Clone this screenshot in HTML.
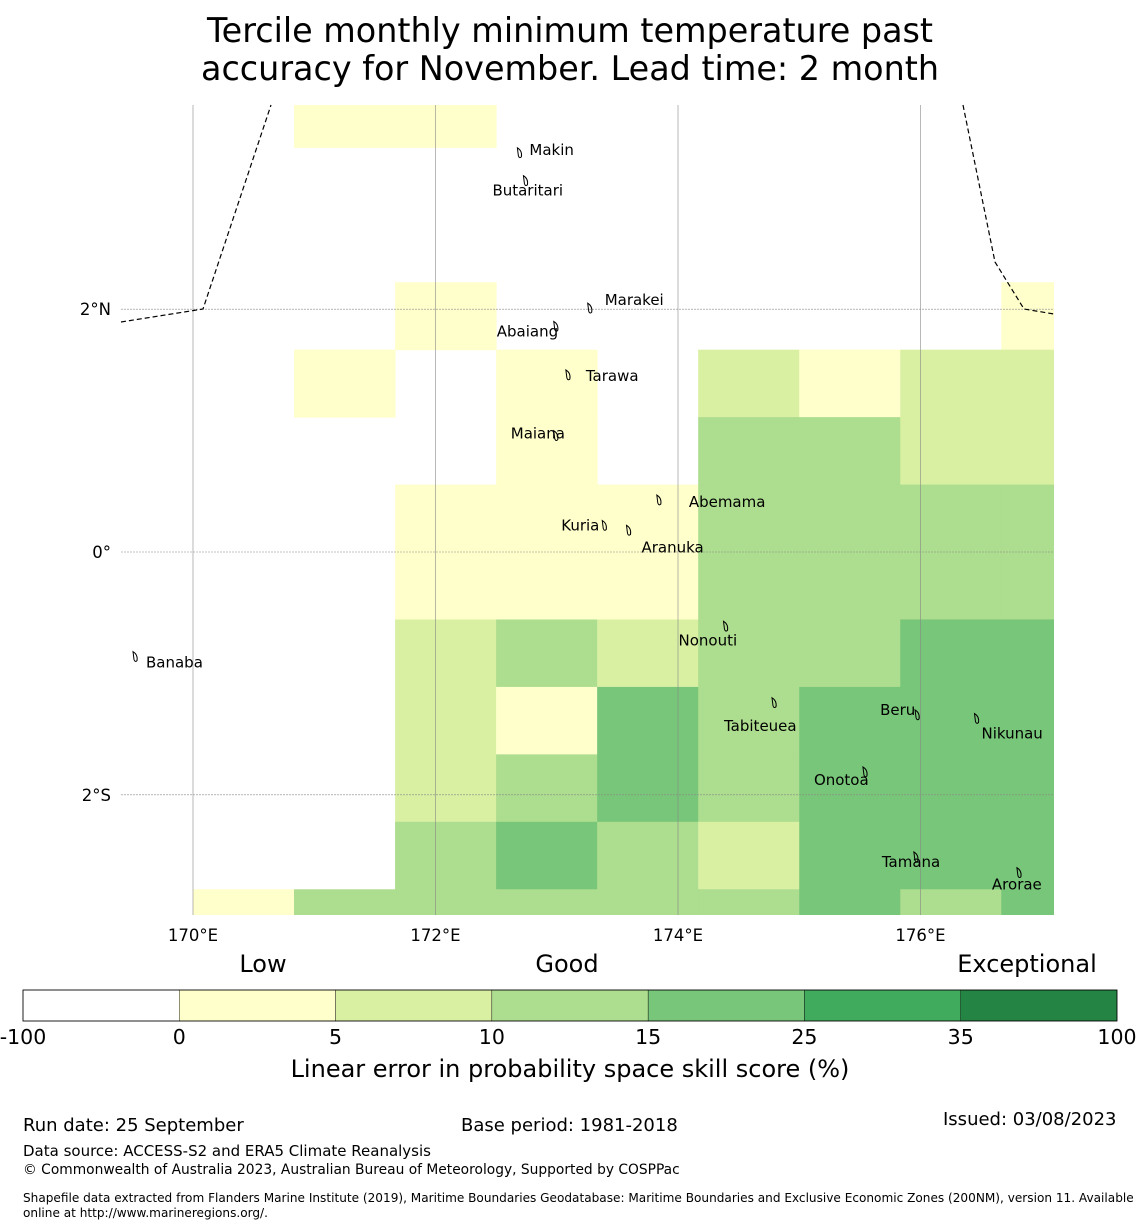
<!DOCTYPE html>
<html><head><meta charset="utf-8">
<style>
body{margin:0;background:#fff;font-family:"Liberation Sans","DejaVu Sans",sans-serif;}
#wrap{position:relative;width:1140px;height:1230px;overflow:hidden;}
.t{position:absolute;white-space:nowrap;color:#000;}
</style></head>
<body>
<div id="wrap">
<div class="t" style="left:0;width:1140px;top:12px;text-align:center;font-size:33.4px;line-height:38px;font-family:'DejaVu Sans',sans-serif;">Tercile monthly minimum temperature past<br>accuracy for November. Lead time: 2 month</div>
<svg id="map" width="1140" height="1230" style="position:absolute;left:0;top:0" font-family="DejaVu Sans, sans-serif"></svg>
<div class="t" style="left:23px;top:1115px;font-size:18px;font-family:'DejaVu Sans',sans-serif;">Run date: 25 September</div>
<div class="t" style="left:461px;top:1115px;font-size:18px;font-family:'DejaVu Sans',sans-serif;">Base period: 1981-2018</div>
<div class="t" style="left:943px;top:1109px;font-size:18px;font-family:'DejaVu Sans',sans-serif;">Issued: 03/08/2023</div>
<div class="t" style="left:23px;top:1142px;font-size:15px;font-family:'DejaVu Sans',sans-serif;">Data source: ACCESS-S2 and ERA5 Climate Reanalysis</div>
<div class="t" style="left:23px;top:1162px;font-size:13.8px;font-family:'DejaVu Sans',sans-serif;">© Commonwealth of Australia 2023, Australian Bureau of Meteorology, Supported by COSPPac</div>
<div class="t" style="left:23px;top:1191px;font-size:12.1px;line-height:15px;font-family:'DejaVu Sans',sans-serif;">Shapefile data extracted from Flanders Marine Institute (2019), Maritime Boundaries Geodatabase: Maritime Boundaries and Exclusive Economic Zones (200NM), version 11. Available<br>online at http://www.marineregions.org/.</div>
</div>
<script>
// grid data: skill score (%) per cell; rows from north to south, columns from 170E eastward; null = no data
const cellLonStart = 170.0;
const cellLonStep = 0.8333;
const cellLatTop = 3.889;
const cellLatStep = 0.5556;
const row0 = [null, 3, 3, null, null, null, null, null, null];
const row1 = [null, null, null, null, null, null, null, null, null];
const row2 = [null, null, null, null, null, null, null, null, null];
const row3 = [null, null, 3, null, null, null, null, null, 3];
const row4 = [null, 3, null, 3, null, 7, 3, 7, 7];
const row5 = [null, null, null, 3, null, 12, 12, 7, 7];
const row6 = [null, null, 3, 3, 3, 12, 12, 12, 12];
const row7 = [null, null, 3, 3, 3, 12, 12, 12, 12];
const row8 = [null, null, 7, 12, 7, 12, 12, 20, 20];
const row9 = [null, null, 7, 3, 20, 12, 20, 20, 20];
const row10 = [null, null, 7, 12, 20, 12, 20, 20, 20];
const row11 = [null, null, 12, 20, 12, 7, 20, 20, 20];
const row12 = [3, 12, 12, 12, 12, 12, 20, 12, 20];
const rows = [row0,row1,row2,row3,row4,row5,row6,row7,row8,row9,row10,row11,row12];
const lonTicks = [170, 172, 174, 176];
const lonTickLabels = ["170°E", "172°E", "174°E", "176°E"];
const latTicks = [2, 0, -2];
const latTickLabels = ["2°N", "0°", "2°S"];
const cbBounds = [-100, 0, 5, 10, 15, 25, 35, 100];
const cbColors = ["#ffffff", "#ffffcc", "#d9f0a3", "#addd8e", "#78c679", "#41ab5d", "#238443"];
const islandNames = ["Makin","Butaritari","Marakei","Abaiang","Tarawa","Maiana","Abemama","Kuria","Aranuka","Banaba","Nonouti","Tabiteuea","Beru","Nikunau","Onotoa","Tamana","Arorae"];
const islandLon = [172.7,172.75,173.28,173.0,173.1,173.0,173.85,173.4,173.6,169.53,174.4,174.8,175.98,176.47,175.55,175.97,176.82];
const islandLat = [3.28,3.05,2.0,1.85,1.45,0.95,0.42,0.21,0.17,-0.87,-0.62,-1.25,-1.35,-1.38,-1.82,-2.52,-2.65];
const labelDx = [9,-34,14,-60,17,-46,29,-44,12,10,-48,-51,-38,4,-52,-35,-28];
const labelDy = [1,14,-4,9,5,2,6,4,21,10,18,27,-1,19,12,9,16];

const svg = document.getElementById('map');
const NS = 'http://www.w3.org/2000/svg';
const X0=121, X1=1054, Y0=105, Y1=915;
function xs(lon){return 193+(lon-170)*121.25;}
function ys(lat){return 552-lat*121.4;}
function colorFor(v){for(let i=0;i<cbColors.length;i++){if(v<cbBounds[i+1])return cbColors[i];}return cbColors[cbColors.length-1];}
function mk(tag,attrs){const e=document.createElementNS(NS,tag);for(const k in attrs)e.setAttribute(k,attrs[k]);svg.appendChild(e);return e;}

const defs=mk('defs',{});
const cp=document.createElementNS(NS,'clipPath');cp.setAttribute('id','clip');defs.appendChild(cp);
const cr=document.createElementNS(NS,'rect');cr.setAttribute('x',X0);cr.setAttribute('y',Y0);cr.setAttribute('width',X1-X0);cr.setAttribute('height',Y1-Y0);cp.appendChild(cr);
const g=mk('g',{'clip-path':'url(#clip)'});


rows.forEach((row,r)=>{row.forEach((v,c)=>{
  if(v===null)return;
  const lon0=cellLonStart+c*cellLonStep, lat0=cellLatTop-r*cellLatStep;
  const x=xs(lon0), y=ys(lat0), w=xs(lon0+cellLonStep)-x, h=ys(lat0-cellLatStep)-y;
  const e=document.createElementNS(NS,'rect');
  e.setAttribute('x',x);e.setAttribute('y',y);e.setAttribute('width',w+0.5);e.setAttribute('height',h+0.5);e.setAttribute('fill',colorFor(v));
  
  
  g.appendChild(e);
});});
lonTicks.forEach((lon,i)=>{
  const l=mk('line',{x1:xs(lon),x2:xs(lon),y1:Y0,y2:Y1,stroke:'#888','stroke-width':0.6});
  
  
  const t=mk('text',{x:xs(lon),y:941,'text-anchor':'middle','font-size':16.5});
  t.textContent=lonTickLabels[i];
  
  
});
latTicks.forEach((lat,i)=>{
  const l=mk('line',{x1:X0,x2:X1,y1:ys(lat),y2:ys(lat),stroke:'#888','stroke-width':0.6,'stroke-dasharray':'2,1'});
  
  
  const t=mk('text',{x:111,y:ys(lat)+6,'text-anchor':'end','font-size':16.5});
  t.textContent=latTickLabels[i];
  
  
});
const b1=mk('polyline',{points:'121,322 203,309 271,105',fill:'none',stroke:'#000','stroke-width':1.2,'stroke-dasharray':'5,3'});


const b2=mk('polyline',{points:'963,105 995,262 1024,309 1054,314',fill:'none',stroke:'#000','stroke-width':1.2,'stroke-dasharray':'5,3'});


islandNames.forEach((n,i)=>{
  const x=xs(islandLon[i]), y=ys(islandLat[i]);
  const p=mk('path',{d:`M${x-3},${y-6} q5,3 4,9 q-2,2 -3,-1 z`,fill:'none',stroke:'#000','stroke-width':1});
  
  
  const t=mk('text',{x:x+labelDx[i],y:y+labelDy[i],'font-size':15});
  t.textContent=n;
  
  
});
const cbX=23, cbW=1094, cbY=990, cbH=31, seg=cbW/cbColors.length;
cbColors.forEach((c,i)=>{
  const r=mk('rect',{x:cbX+i*seg,y:cbY,width:seg,height:cbH,fill:c,stroke:'#000','stroke-width':0.4});
  
  
});
mk('rect',{x:cbX,y:cbY,width:cbW,height:cbH,fill:'none',stroke:'#000','stroke-width':0.8});
cbBounds.forEach((b,i)=>{
  const t=mk('text',{x:cbX+i*seg,y:1044,'text-anchor':'middle','font-size':20.5});
  t.textContent=b;
  
  
});
[['Low',263],['Good',567],['Exceptional',1027]].forEach(([s,x])=>{
  const t=mk('text',{x:x,y:972,'text-anchor':'middle','font-size':24});
  t.textContent=s;
  
  
});
const ct=mk('text',{x:570,y:1077,'text-anchor':'middle','font-size':24});
ct.textContent='Linear error in probability space skill score (%)';


</script>
</body></html>
